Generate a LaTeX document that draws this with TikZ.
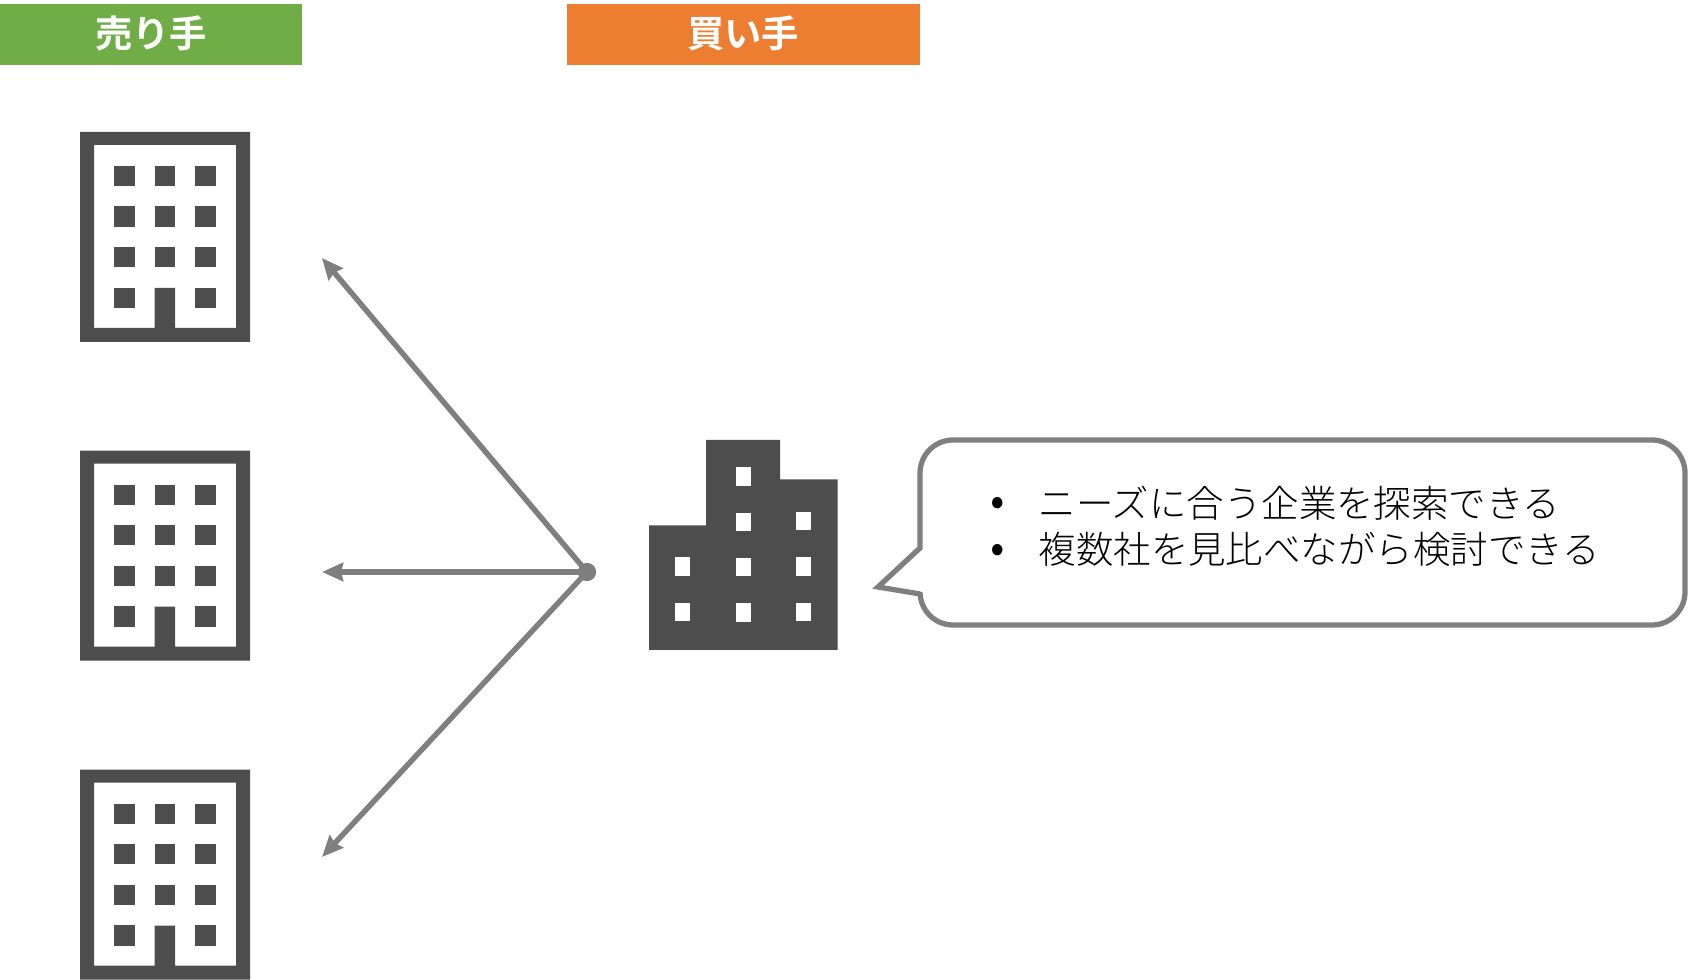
\documentclass[tikz,border=0pt]{standalone}
\usepackage{fontspec}
\usepackage{tikz}
\usetikzlibrary{arrows.meta}
\newfontfamily\jplight{Noto Sans CJK JP Light}
\newfontfamily\jpbold{Noto Sans CJK JP Bold}
\definecolor{icongray}{HTML}{4D4D4D}
\definecolor{linegray}{HTML}{7F7F7F}
\definecolor{sellergreen}{HTML}{70AD47}
\definecolor{buyerorange}{HTML}{ED7D31}
\tikzset{
  header/.style={font=\jpbold\fontsize{10.6pt}{12pt}\selectfont,text=white,inner sep=0pt},
  link/.style={draw=linegray,line width=1.55pt,-{Stealth[length=6pt,width=5.2pt,inset=0.6pt]}},
  bubbletext/.style={font=\jplight\fontsize{10.65pt}{12pt}\selectfont,anchor=west,inner sep=0pt},
}
\begin{document}
\begin{tikzpicture}[x=0.01cm,y=-0.01cm]
\useasboundingbox (0,0) rectangle (1688,980);
% headers
\fill[sellergreen] (0,4) rectangle (302,65);
\node[header] (seller) at (151,33.5) {売り手};
\fill[buyerorange] (567,4) rectangle (920,65);
\node[header] (buyer) at (743,33.5) {買い手};
% seller buildings
\foreach \dy in {0,318.6,637.6} {
  \begin{scope}[yshift=-\dy*0.01cm]
  \fill[icongray,even odd rule] (80,132) rectangle (250,342) (94,145) -- (94,328) -- (154.5,328) -- (154.5,288) -- (175,288) -- (175,328) -- (236,328) -- (236,145) -- cycle;
  \foreach \x in {114,154.5,195} \foreach \y in {166,206.5,247} \fill[icongray] (\x,\y) rectangle +(20.5,20.3);
  \fill[icongray] (114,287.7) rectangle +(20.5,20.3);
  \fill[icongray] (195,287.7) rectangle +(20.5,20.3);
  \end{scope}
}
% buyer building
\fill[icongray] (649,650) -- (649,525.5) -- (706,525.5) -- (706,440) -- (780,440) -- (780,479.5) -- (837.5,479.5) -- (837.5,650) -- cycle;
\foreach \x/\y in {735.5/467.5,735.5/513,735.5/558,735.5/603.5,796/512,796/557.5,796/603,675/557.5,675/603} \fill[white] (\x,\y) rectangle +(15,18.5);
% arrows
\coordinate (tipa) at (322,258);
\coordinate (tipb) at (322,572);
\coordinate (tipc) at (322,857);
\node[circle,fill=linegray,minimum size=5.2pt,inner sep=0pt] (hub) at (587,572) {};
\draw[link] (hub.center) -- (tipa);
\draw[link] (hub.center) -- (tipb);
\draw[link] (hub.center) -- (tipc);
% speech bubble
\draw[linegray,line width=1.5pt,line join=miter] (920,548) [rounded corners=9.4pt] -- (920,440) -- (1685,440) -- (1685,625) -- (920,625) [sharp corners] -- (920,594) -- (878,587) -- cycle;
\node[bubbletext,font=\jplight\fontsize{13pt}{12pt}\selectfont] (dota) at (990,507) {•};
\node[bubbletext] (linea) at (1038,503) {ニーズに合う企業を探索できる};
\node[bubbletext,font=\jplight\fontsize{13pt}{12pt}\selectfont] (dotb) at (990,554) {•};
\node[bubbletext] (lineb) at (1038,549) {複数社を見比べながら検討できる};
\end{tikzpicture}
\end{document}
